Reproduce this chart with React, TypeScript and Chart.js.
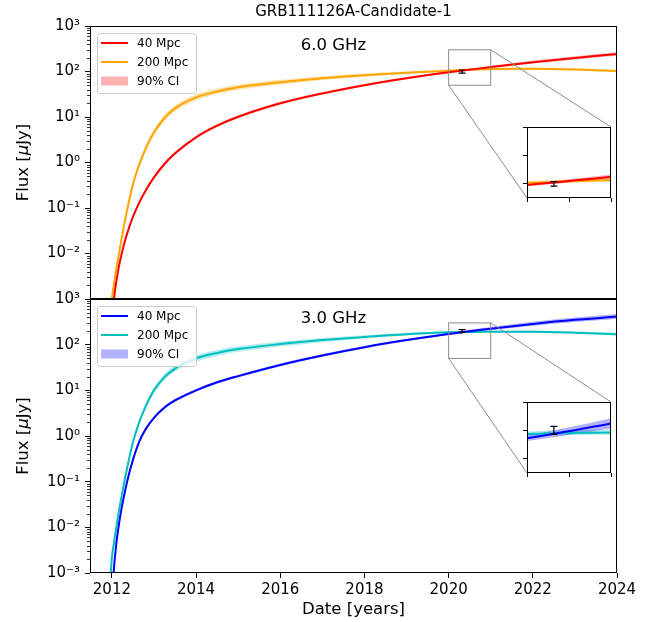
import React, { useEffect, useRef } from "react";
import { Chart, registerables } from "chart.js";

Chart.register(...registerables);

// ---------------- data ----------------
const dates = [2011.96, 2011.98, 2012.0, 2012.05, 2012.1, 2012.15, 2012.2, 2012.3, 2012.4, 2012.5, 2012.65, 2012.8, 2013.0, 2013.25, 2013.5, 2014.0, 2014.5, 2015.0, 2016.0, 2017.0, 2018.0, 2019.0, 2020.0, 2021.0, 2022.0, 2023.0, 2024.0];

// 6.0 GHz
const flux6GHz40Mpc = [0.000126, 0.00023, 0.000375, 0.00103, 0.00224, 0.00425, 0.0073, 0.0175, 0.0353, 0.0636, 0.131, 0.24, 0.47, 0.926, 1.59, 3.58, 6.44, 10.1, 20, 33, 50, 71, 96, 125, 160, 199, 243];
const flux6GHz200Mpc = [0.0003, 0.00055, 0.001, 0.0021, 0.0043, 0.0078, 0.0145, 0.047, 0.132, 0.33, 0.9, 2.0, 4.6, 9.5, 15.5, 27, 36.5, 45, 58, 71, 83, 94, 104, 113, 115, 111, 103];
// 3.0 GHz
const flux3GHz40Mpc = [0.0001, 0.00016, 0.0003, 0.0013, 0.004, 0.009, 0.018, 0.055, 0.14, 0.3, 0.75, 1.4, 2.5, 4.2, 6.0, 10, 15, 20.5, 36, 58, 88, 126, 172, 224, 285, 350, 412];
const flux3GHz200Mpc = [0.00066, 0.0012, 0.0022, 0.0046, 0.0095, 0.0185, 0.034, 0.105, 0.29, 0.73, 2.0, 4.4, 10, 19.5, 30, 50, 66, 80, 103, 126, 148, 170, 187, 193, 192, 183, 170];

// 90% CI half-widths (dex)
const ci6GHz40Mpc = [0.05, 0.05, 0.05, 0.05, 0.05, 0.05, 0.05, 0.045, 0.045, 0.04, 0.04, 0.04, 0.035, 0.035, 0.035, 0.03, 0.03, 0.03, 0.03, 0.025, 0.025, 0.022, 0.02, 0.025, 0.03, 0.035, 0.04];
const ci6GHz200Mpc = [0.06, 0.06, 0.06, 0.06, 0.06, 0.06, 0.06, 0.06, 0.065, 0.065, 0.07, 0.07, 0.07, 0.07, 0.07, 0.07, 0.065, 0.06, 0.055, 0.045, 0.035, 0.03, 0.025, 0.025, 0.025, 0.025, 0.025];
const ci3GHz40Mpc = [0.05, 0.05, 0.05, 0.05, 0.05, 0.05, 0.05, 0.045, 0.045, 0.04, 0.04, 0.04, 0.035, 0.035, 0.035, 0.03, 0.03, 0.03, 0.03, 0.03, 0.028, 0.026, 0.025, 0.035, 0.045, 0.05, 0.055];
const ci3GHz200Mpc = [0.06, 0.06, 0.06, 0.06, 0.06, 0.06, 0.06, 0.06, 0.065, 0.065, 0.07, 0.07, 0.07, 0.07, 0.07, 0.07, 0.065, 0.06, 0.055, 0.045, 0.035, 0.028, 0.02, 0.02, 0.022, 0.025, 0.03];

// observation
const obsDate = [2020.32];
const obs6GHzFlux = [100];
const obs6GHzErr = [8];
const obs3GHzFlux = [200];
const obs3GHzErr = [14];

// ticks / labels
const xTicks = [2012, 2014, 2016, 2018, 2020, 2022, 2024];
const yDecades = [1e-3, 1e-2, 1e-1, 1, 10, 100, 1000];
const yTickLabels = ["10\u207B\u00B3", "10\u207B\u00B2", "10\u207B\u00B9", "10\u2070", "10\u00B9", "10\u00B2", "10\u00B3"];
const insetXRange = [2020, 2021];
const insetYRange = [50, 300];
const insetXTicks = [2020, 2020.5, 2021];
const insetYTicks = [100, 200, 300];
const legendLabels = ["40 Mpc", "200 Mpc", "90% CI"];
const panelLabels = ["6.0 GHz", "3.0 GHz"];
const titleText = "GRB111126A-Candidate-1";
const xTitle = "Date [years]";

// ---------------- layout ----------------
const FONT = "'DejaVu Sans', Verdana, sans-serif";
const PAGE_W = 654;
const PAGE_H = 622;
const PLOT_L = 90;
const PLOT_R = 617;
const TOP_Y0 = 26;
const MID_Y = 299;
const BOT_Y1 = 573;
const TOP_CANVAS_H = 304;
const BOT_CANVAS_TOP = 280;
const BOT_CANVAS_H = PAGE_H - BOT_CANVAS_TOP;
const X_MIN = 2011.48;
const X_MAX = 2024;
const INSET_L = 527;
const INSET_R = 611;
const INSET_H = 71;
const INSET_TOPS = [127, 402];

const panels = [
  {
    label: panelLabels[0],
    near: flux6GHz40Mpc, far: flux6GHz200Mpc, nearCi: ci6GHz40Mpc, farCi: ci6GHz200Mpc,
    nearColor: "#ff0000", farColor: "#ffa500",
    nearBand: "rgba(255,0,0,0.3)", farBand: "rgba(255,165,0,0.3)",
    obsFlux: obs6GHzFlux, obsErr: obs6GHzErr,
    yTicks: yDecades.slice(1),
  },
  {
    label: panelLabels[1],
    near: flux3GHz40Mpc, far: flux3GHz200Mpc, nearCi: ci3GHz40Mpc, farCi: ci3GHz200Mpc,
    nearColor: "#0000ff", farColor: "#00bfbf",
    nearBand: "rgba(0,0,255,0.3)", farBand: "rgba(0,191,191,0.3)",
    obsFlux: obs3GHzFlux, obsErr: obs3GHzErr,
    yTicks: yDecades,
  },
];

function pts(vals: number[]) {
  return dates.map((d, i) => ({ x: d, y: vals[i] }));
}
function band(vals: number[], ci: number[], sign: number) {
  return dates.map((d, i) => ({ x: d, y: vals[i] * Math.pow(10, sign * ci[i]) }));
}

function buildDatasets(p: any) {
  const common = { pointRadius: 0, cubicInterpolationMode: "monotone" };
  const edge = { ...common, borderWidth: 0, borderColor: "rgba(0,0,0,0)" };
  return [
    { ...common, data: pts(p.near), borderColor: p.nearColor, borderWidth: 2, fill: false },
    { ...common, data: pts(p.far), borderColor: p.farColor, borderWidth: 2, fill: false },
    { ...edge, data: band(p.near, p.nearCi, -1), fill: false },
    { ...edge, data: band(p.near, p.nearCi, 1), fill: "-1", backgroundColor: p.nearBand },
    { ...edge, data: band(p.far, p.farCi, -1), fill: false },
    { ...edge, data: band(p.far, p.farCi, 1), fill: "-1", backgroundColor: p.farBand },
  ];
}

function drawErrorBar(ctx: CanvasRenderingContext2D, xs: any, ys: any, p: any) {
  ctx.save();
  ctx.strokeStyle = "#000";
  ctx.lineWidth = 1.2;
  obsDate.forEach((d, i) => {
    const x = xs.getPixelForValue(d);
    const y1 = ys.getPixelForValue(p.obsFlux[i] + p.obsErr[i]);
    const y2 = ys.getPixelForValue(p.obsFlux[i] - p.obsErr[i]);
    ctx.beginPath();
    ctx.moveTo(x, y1); ctx.lineTo(x, y2);
    ctx.moveTo(x - 3.5, y1); ctx.lineTo(x + 3.5, y1);
    ctx.moveTo(x - 3.5, y2); ctx.lineTo(x + 3.5, y2);
    ctx.stroke();
  });
  ctx.restore();
}

function drawFrame(ctx: CanvasRenderingContext2D, a: any) {
  ctx.save();
  ctx.strokeStyle = "#000";
  ctx.lineWidth = 1;
  ctx.strokeRect(Math.round(a.left) + 0.5, Math.round(a.top) + 0.5, Math.round(a.right - a.left) - 1, Math.round(a.bottom - a.top) - 1);
  ctx.restore();
}

function roundRect(ctx: CanvasRenderingContext2D, x: number, y: number, w: number, h: number, r: number) {
  ctx.beginPath();
  ctx.moveTo(x + r, y);
  ctx.lineTo(x + w - r, y);
  ctx.arcTo(x + w, y, x + w, y + r, r);
  ctx.lineTo(x + w, y + h - r);
  ctx.arcTo(x + w, y + h, x + w - r, y + h, r);
  ctx.lineTo(x + r, y + h);
  ctx.arcTo(x, y + h, x, y + h - r, r);
  ctx.lineTo(x, y + r);
  ctx.arcTo(x, y, x + r, y, r);
  ctx.closePath();
}

function panelPlugin(pi: number, canvasTop: number) {
  const p = panels[pi];
  return {
    id: "panelDeco" + pi,
    afterDraw(chart: any) {
      const { ctx, chartArea: a, scales } = chart;
      const xs = scales.x;
      const ys = scales.y;
      ctx.save();
      // minor log ticks
      ctx.strokeStyle = "#000";
      ctx.lineWidth = 0.8;
      ctx.beginPath();
      for (let d = -3; d < 3; d++) {
        for (let k = 2; k <= 9; k++) {
          const y = Math.round(ys.getPixelForValue(k * Math.pow(10, d))) + 0.5;
          ctx.moveTo(a.left - 3, y);
          ctx.lineTo(a.left, y);
        }
      }
      ctx.stroke();
      ctx.restore();

      drawFrame(ctx, a);

      // zoom box and connectors
      const bx0 = xs.getPixelForValue(insetXRange[0]);
      const bx1 = xs.getPixelForValue(insetXRange[1]);
      const by0 = ys.getPixelForValue(insetYRange[1]);
      const by1 = ys.getPixelForValue(insetYRange[0]);
      const iTop = INSET_TOPS[pi] - canvasTop;
      ctx.save();
      ctx.strokeStyle = "#8c8c8c";
      ctx.lineWidth = 1;
      ctx.strokeRect(bx0, by0, bx1 - bx0, by1 - by0);
      ctx.beginPath();
      ctx.moveTo(bx1, by0); ctx.lineTo(INSET_R, iTop);
      ctx.moveTo(bx0, by1); ctx.lineTo(INSET_L, iTop + INSET_H);
      ctx.stroke();
      ctx.restore();

      drawErrorBar(ctx, xs, ys, p);

      // legend
      const lx = a.left + 7;
      const ly = a.top + 7;
      ctx.save();
      roundRect(ctx, lx + 0.5, ly + 0.5, 99, 60, 3);
      ctx.fillStyle = "rgba(255,255,255,0.8)";
      ctx.fill();
      ctx.strokeStyle = "#cccccc";
      ctx.lineWidth = 1;
      ctx.stroke();
      ctx.font = `12px ${FONT}`;
      ctx.textBaseline = "middle";
      ctx.textAlign = "left";
      const rows = [ly + 10, ly + 29, ly + 48];
      ctx.lineWidth = 2;
      ctx.strokeStyle = p.nearColor;
      ctx.beginPath(); ctx.moveTo(lx + 4, rows[0]); ctx.lineTo(lx + 31, rows[0]); ctx.stroke();
      ctx.strokeStyle = p.farColor;
      ctx.beginPath(); ctx.moveTo(lx + 4, rows[1]); ctx.lineTo(lx + 31, rows[1]); ctx.stroke();
      ctx.fillStyle = p.nearBand;
      ctx.fillRect(lx + 4, rows[2] - 4.5, 27, 9);
      ctx.fillStyle = "#000";
      legendLabels.forEach((t, i) => ctx.fillText(t, lx + 40, rows[i] + 0.5));
      ctx.restore();

      // panel annotation
      ctx.save();
      ctx.font = `16.5px ${FONT}`;
      ctx.fillStyle = "#000";
      ctx.textBaseline = "middle";
      ctx.textAlign = "left";
      ctx.fillText(p.label, a.left + 0.4 * (a.right - a.left), a.top + 20);
      ctx.restore();

      // y label  Flux [μJy]
      ctx.save();
      ctx.translate(24, (a.top + a.bottom) / 2);
      ctx.rotate(-Math.PI / 2);
      ctx.fillStyle = "#000";
      ctx.textBaseline = "middle";
      ctx.textAlign = "left";
      const parts: [string, string][] = [["Flux [", `16.5px ${FONT}`], ["\u03BC", `italic 16.5px ${FONT}`], ["Jy]", `16.5px ${FONT}`]];
      let total = 0;
      parts.forEach(([t, f]) => { ctx.font = f; total += ctx.measureText(t).width; });
      let cx = -total / 2;
      parts.forEach(([t, f]) => { ctx.font = f; ctx.fillText(t, cx, 0); cx += ctx.measureText(t).width; });
      ctx.restore();

      if (pi === 0) {
        ctx.save();
        ctx.font = `15px ${FONT}`;
        ctx.fillStyle = "#000";
        ctx.textAlign = "center";
        ctx.textBaseline = "middle";
        ctx.fillText(titleText, (a.left + a.right) / 2, 12);
        ctx.restore();
      }
    },
  };
}

function insetPlugin(pi: number) {
  const p = panels[pi];
  return {
    id: "insetDeco" + pi,
    beforeDraw(chart: any) {
      const { ctx, chartArea: a } = chart;
      ctx.save();
      ctx.fillStyle = "#fff";
      ctx.fillRect(a.left, a.top, a.right - a.left, a.bottom - a.top);
      ctx.restore();
    },
    afterDraw(chart: any) {
      const { ctx, chartArea: a, scales } = chart;
      drawErrorBar(ctx, scales.x, scales.y, p);
      drawFrame(ctx, a);
    },
  };
}

const tickGrid = { display: true, drawOnChartArea: false, drawTicks: true, tickLength: 5, tickColor: "#000", tickWidth: 1 };

function mainConfig(pi: number): any {
  const p = panels[pi];
  const isBottom = pi === 1;
  return {
    type: "line",
    data: { datasets: buildDatasets(p) },
    options: {
      responsive: false,
      animation: false,
      devicePixelRatio: 1,
      events: [],
      layout: {
        padding: {
          left: 0,
          right: PAGE_W - PLOT_R,
          top: isBottom ? MID_Y - BOT_CANVAS_TOP : TOP_Y0,
          bottom: isBottom ? 0 : TOP_CANVAS_H - MID_Y,
        },
      },
      plugins: { legend: { display: false }, tooltip: { enabled: false }, title: { display: false } },
      scales: {
        x: {
          type: "linear",
          min: X_MIN,
          max: X_MAX,
          display: isBottom,
          afterBuildTicks: (s: any) => { s.ticks = xTicks.map((v) => ({ value: v })); },
          afterFit: (s: any) => { s.height = isBottom ? PAGE_H - BOT_Y1 : 0; s.paddingLeft = 0; s.paddingRight = 0; },
          ticks: { autoSkip: false, maxRotation: 0, padding: 3, color: "#000", font: { family: FONT, size: 15 }, callback: (v: any) => String(v) },
          grid: tickGrid,
          border: { display: false },
          title: { display: true, text: xTitle, color: "#000", font: { family: FONT, size: 16.5 }, padding: { top: 0, bottom: 2 } },
        },
        y: {
          type: "logarithmic",
          min: yDecades[0],
          max: yDecades[yDecades.length - 1],
          afterBuildTicks: (s: any) => { s.ticks = p.yTicks.map((v: number) => ({ value: v })); },
          afterFit: (s: any) => { s.width = PLOT_L; s.paddingTop = 0; s.paddingBottom = 0; },
          ticks: {
            autoSkip: false,
            padding: 5,
            color: "#000",
            font: { family: FONT, size: 15 },
            callback: (v: any) => yTickLabels[Math.round(Math.log10(Number(v))) + 3],
          },
          grid: tickGrid,
          border: { display: false },
        },
      },
    },
    plugins: [panelPlugin(pi, isBottom ? BOT_CANVAS_TOP : 0)],
  };
}

function insetConfig(pi: number): any {
  const p = panels[pi];
  const smallGrid = { display: true, drawOnChartArea: false, drawTicks: true, tickLength: 4, tickColor: "#000", tickWidth: 1 };
  return {
    type: "line",
    data: { datasets: buildDatasets(p) },
    options: {
      responsive: false,
      animation: false,
      devicePixelRatio: 1,
      events: [],
      layout: { padding: { left: 0, top: 2, right: 2, bottom: 0 } },
      plugins: { legend: { display: false }, tooltip: { enabled: false }, title: { display: false } },
      scales: {
        x: {
          type: "linear",
          min: insetXRange[0],
          max: insetXRange[1],
          afterBuildTicks: (s: any) => { s.ticks = insetXTicks.map((v) => ({ value: v })); },
          afterFit: (s: any) => { s.height = 8; s.paddingLeft = 0; s.paddingRight = 0; },
          ticks: { display: false },
          grid: smallGrid,
          border: { display: false },
        },
        y: {
          type: "linear",
          min: insetYRange[0],
          max: insetYRange[1],
          afterBuildTicks: (s: any) => { s.ticks = insetYTicks.map((v) => ({ value: v })); },
          afterFit: (s: any) => { s.width = 8; s.paddingTop = 0; s.paddingBottom = 0; },
          ticks: { display: false },
          grid: smallGrid,
          border: { display: false },
        },
      },
    },
    plugins: [insetPlugin(pi)],
  };
}

export default function App() {
  const topRef = useRef<HTMLCanvasElement>(null);
  const botRef = useRef<HTMLCanvasElement>(null);
  const in0Ref = useRef<HTMLCanvasElement>(null);
  const in1Ref = useRef<HTMLCanvasElement>(null);

  useEffect(() => {
    const charts: Chart[] = [];
    charts.push(new Chart(topRef.current as HTMLCanvasElement, mainConfig(0)));
    charts.push(new Chart(botRef.current as HTMLCanvasElement, mainConfig(1)));
    charts.push(new Chart(in0Ref.current as HTMLCanvasElement, insetConfig(0)));
    charts.push(new Chart(in1Ref.current as HTMLCanvasElement, insetConfig(1)));
    return () => charts.forEach((c) => c.destroy());
  }, []);

  const insetW = INSET_R - INSET_L + 10;
  const insetH = INSET_H + 10;
  const abs = (left: number, top: number, w: number, h: number): React.CSSProperties => ({
    position: "absolute", left, top, width: w, height: h, display: "block",
  });

  return (
    <div style={{ position: "fixed", left: 0, top: 0, width: PAGE_W, height: PAGE_H, background: "#fff", overflow: "hidden" }}>
      <canvas ref={topRef} width={PAGE_W} height={TOP_CANVAS_H} style={abs(0, 0, PAGE_W, TOP_CANVAS_H)} />
      <canvas ref={botRef} width={PAGE_W} height={BOT_CANVAS_H} style={abs(0, BOT_CANVAS_TOP, PAGE_W, BOT_CANVAS_H)} />
      <canvas ref={in0Ref} width={insetW} height={insetH} style={abs(INSET_L - 8, INSET_TOPS[0] - 2, insetW, insetH)} />
      <canvas ref={in1Ref} width={insetW} height={insetH} style={abs(INSET_L - 8, INSET_TOPS[1] - 2, insetW, insetH)} />
    </div>
  );
}
